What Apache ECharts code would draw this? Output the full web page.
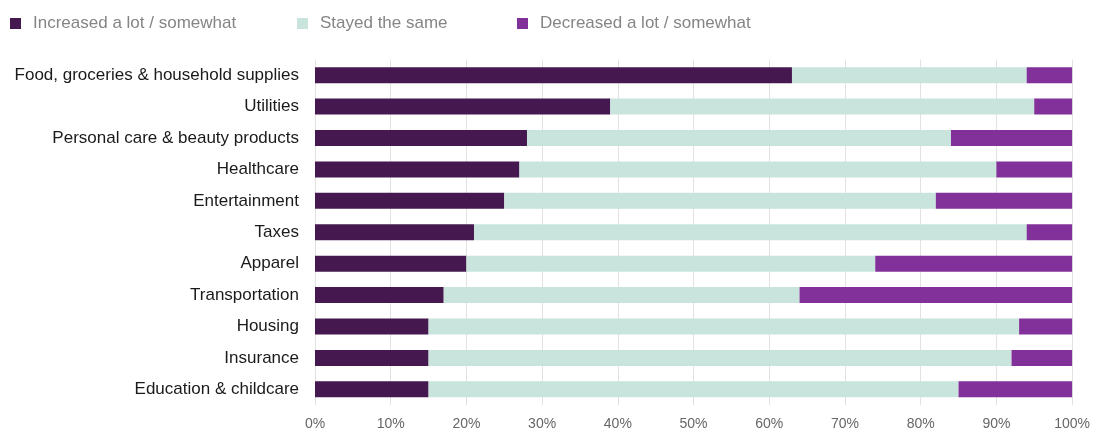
<!DOCTYPE html>
<html><head><meta charset="utf-8">
<script src="https://cdn.jsdelivr.net/npm/echarts@6/dist/echarts.min.js"></script>
<style>html,body{margin:0;padding:0;background:#fff}#c{width:1093px;height:431px}</style>
</head><body><div id="c"></div>
<script>
var categories = ["Food, groceries & household supplies","Utilities","Personal care & beauty products","Healthcare","Entertainment","Taxes","Apparel","Transportation","Housing","Insurance","Education & childcare"];
var increased = [63,39,28,27,25,21,20,17,15,15,15];
var stayed = [31,56,56,63,57,73,54,47,78,77,70];
var decreased = [6,5,16,10,18,6,26,36,7,8,15];
var tickLabels = ["0%","10%","20%","30%","40%","50%","60%","70%","80%","90%","100%"];
var names = ["Increased a lot / somewhat","Stayed the same","Decreased a lot / somewhat"];
var colors = ["#45194f","#c9e4dc","#82309a"];
var font = "'Liberation Sans', Arial, sans-serif";

var chart = echarts.init(document.getElementById('c'), null, {renderer:'canvas'});
function leg(i, left){
  return {data:[names[i]], left:left, top:15, padding:0, itemWidth:11, itemHeight:11, icon:'rect',
    textStyle:{color:'#858585', fontSize:17, fontFamily:font, padding:[0,0,0,7]}, selectedMode:false};
}
function ser(i, data){
  return {name:names[i], type:'bar', stack:'s', data:data, barWidth:16,
    itemStyle:{color:colors[i]}, emphasis:{disabled:true}};
}
chart.setOption({
  animation:false,
  color:colors,
  legend:[leg(0,10), leg(1,297), leg(2,517)],
  grid:{left:315, right:20, top:59.5, bottom:23.5, containLabel:false},
  xAxis:{type:'value', min:0, max:100, interval:10,
    axisLine:{show:false}, axisTick:{show:false},
    splitLine:{lineStyle:{color:'#e2e2e2', width:1}},
    axisLabel:{formatter:function(v){return tickLabels[Math.round(v/10)];}, color:'#666', fontSize:14, fontFamily:font, margin:12}},
  yAxis:{type:'category', data:categories, inverse:true,
    axisLine:{show:false}, axisTick:{show:false},
    axisLabel:{color:'#1a1a1a', fontSize:17, fontFamily:font, margin:16}},
  series:[ser(0,increased), ser(1,stayed), ser(2,decreased)]
});
</script></body></html>
